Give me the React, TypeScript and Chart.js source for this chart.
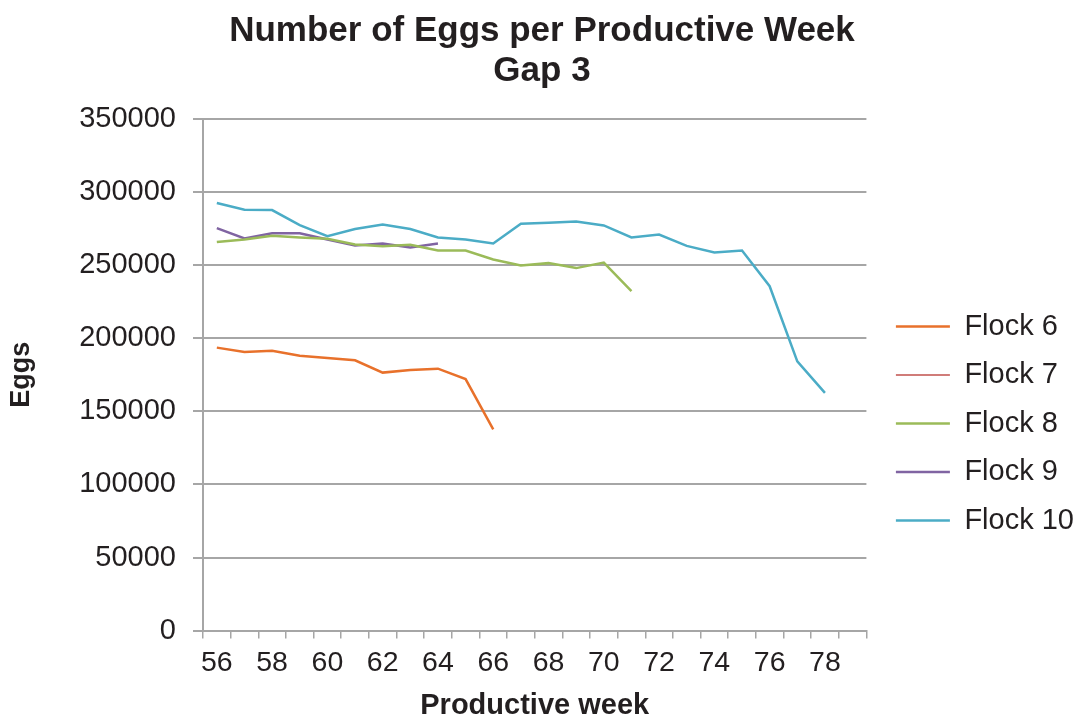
import React, { useEffect, useRef } from "react";
import { Chart, registerables } from "chart.js";

Chart.register(...registerables);

const weeks = [56, 57, 58, 59, 60, 61, 62, 63, 64, 65, 66, 67, 68, 69, 70, 71, 72, 73, 74, 75, 76, 77, 78, 79];

const flock6 = [193600, 190600, 191500, 188100, 186500, 184900, 176500, 178300, 179200, 172100, 137700];
const flock7: (number | null)[] = [];
const flock8 = [265800, 267600, 270100, 269000, 268000, 264200, 263000, 263900, 260000, 260000, 253900, 249800, 251400, 248000, 251800, 232200];
const flock9 = [275300, 268300, 271900, 271900, 267600, 263500, 264800, 262100, 264800];
const flock10 = [292500, 287900, 287700, 277400, 269900, 274700, 277900, 274700, 269000, 267600, 264800, 278300, 279000, 279900, 277200, 269000, 271000, 263200, 258700, 260000, 235600, 184200, 162600];

const seriesNames = ["Flock 6", "Flock 7", "Flock 8", "Flock 9", "Flock 10"];
const seriesColors = ["#E8712B", "#C0504D", "#9BBB59", "#8064A2", "#4BACC6"];

const yTicks = [0, 50000, 100000, 150000, 200000, 250000, 300000, 350000];

const FONT = "'Liberation Sans', Arial, Helvetica, sans-serif";
const TEXT = "#231F20";
const GRID = "#A6A6A6";

export default function App() {
  const ref = useRef<HTMLCanvasElement | null>(null);

  useEffect(() => {
    if (!ref.current) return;
    const all = [flock6, flock7, flock8, flock9, flock10];
    const chart = new Chart(ref.current, {
      type: "line",
      data: {
        labels: weeks.map(String),
        datasets: all.map((d, i) => ({
          label: seriesNames[i],
          data: weeks.map((_, k) => (k < d.length ? d[k] : null)),
          borderColor: seriesColors[i],
          backgroundColor: seriesColors[i],
          borderWidth: i === 1 ? 1.5 : 2.5,
          pointRadius: 0,
          pointHoverRadius: 0,
          tension: 0,
          spanGaps: false,
          fill: false,
        })),
      },
      options: {
        animation: false,
        responsive: false,
        maintainAspectRatio: false,
        layout: { padding: { left: 0, right: 0, top: 6, bottom: 0 } },
        plugins: {
          title: {
            display: true,
            text: ["Number of Eggs per Productive Week", "Gap 3"],
            color: TEXT,
            font: { family: FONT, size: 35, weight: "bold", lineHeight: 1.143 },
            padding: { top: 5, bottom: 28 },
          },
          legend: {
            display: true,
            position: "right",
            maxWidth: 260,
            title: {
              display: true,
              text: " ",
              font: { family: FONT, size: 10, lineHeight: 1 },
              padding: { top: 111, bottom: 0 },
            },
            labels: {
              usePointStyle: true,
              pointStyle: "line",
              pointStyleWidth: 54,
              color: TEXT,
              font: { family: FONT, size: 29 },
              padding: 19.5,
            },
          },
          tooltip: { enabled: false },
        },
        scales: {
          x: {
            offset: true,
            grid: {
              display: true,
              offset: true,
              drawOnChartArea: false,
              drawTicks: true,
              tickLength: 8,
              color: GRID,
              lineWidth: 1.5,
            },
            border: { display: true, color: GRID, width: 2 },
            ticks: {
              autoSkip: false,
              maxRotation: 0,
              color: TEXT,
              font: { family: FONT, size: 28.5 },
              padding: 7.6,
              callback: (_v: any, idx: number) => (idx % 2 === 0 ? String(weeks[idx]) : ""),
            },
            title: {
              display: true,
              text: "Productive week",
              color: TEXT,
              font: { family: FONT, size: 29, weight: "bold", lineHeight: 1 },
              padding: { top: 3, bottom: 0 },
            },
          },
          y: {
            min: yTicks[0],
            max: yTicks[yTicks.length - 1],
            afterBuildTicks: (axis: any) => {
              axis.ticks = yTicks.map((v) => ({ value: v }));
            },
            afterFit: (axis: any) => {
              axis.width = 203;
            },
            grid: {
              color: GRID,
              lineWidth: 2,
              drawTicks: true,
              tickLength: 10,
            },
            border: { display: true, color: GRID, width: 2 },
            ticks: {
              color: TEXT,
              font: { family: FONT, size: 29 },
              padding: 17,
              callback: (v: any) => String(v),
            },
            title: {
              display: true,
              text: "Eggs",
              color: TEXT,
              font: { family: FONT, size: 27, weight: "bold" },
              padding: { top: 5, bottom: 42 },
            },
          },
          ySpacer: {
            type: "linear",
            position: "right",
            display: true,
            min: 0,
            max: 1,
            grid: { display: false, drawOnChartArea: false, drawTicks: false },
            border: { display: false },
            ticks: { display: false },
            afterFit: (axis: any) => {
              axis.width = 10;
            },
          },
        },
      },
    });
    return () => chart.destroy();
  }, []);

  return (
    <div style={{ position: "fixed", left: 0, top: 0, width: 1084, height: 720, background: "#fff" }}>
      <canvas ref={ref} width={1084} height={720} style={{ width: 1084, height: 720, display: "block" }} />
    </div>
  );
}
